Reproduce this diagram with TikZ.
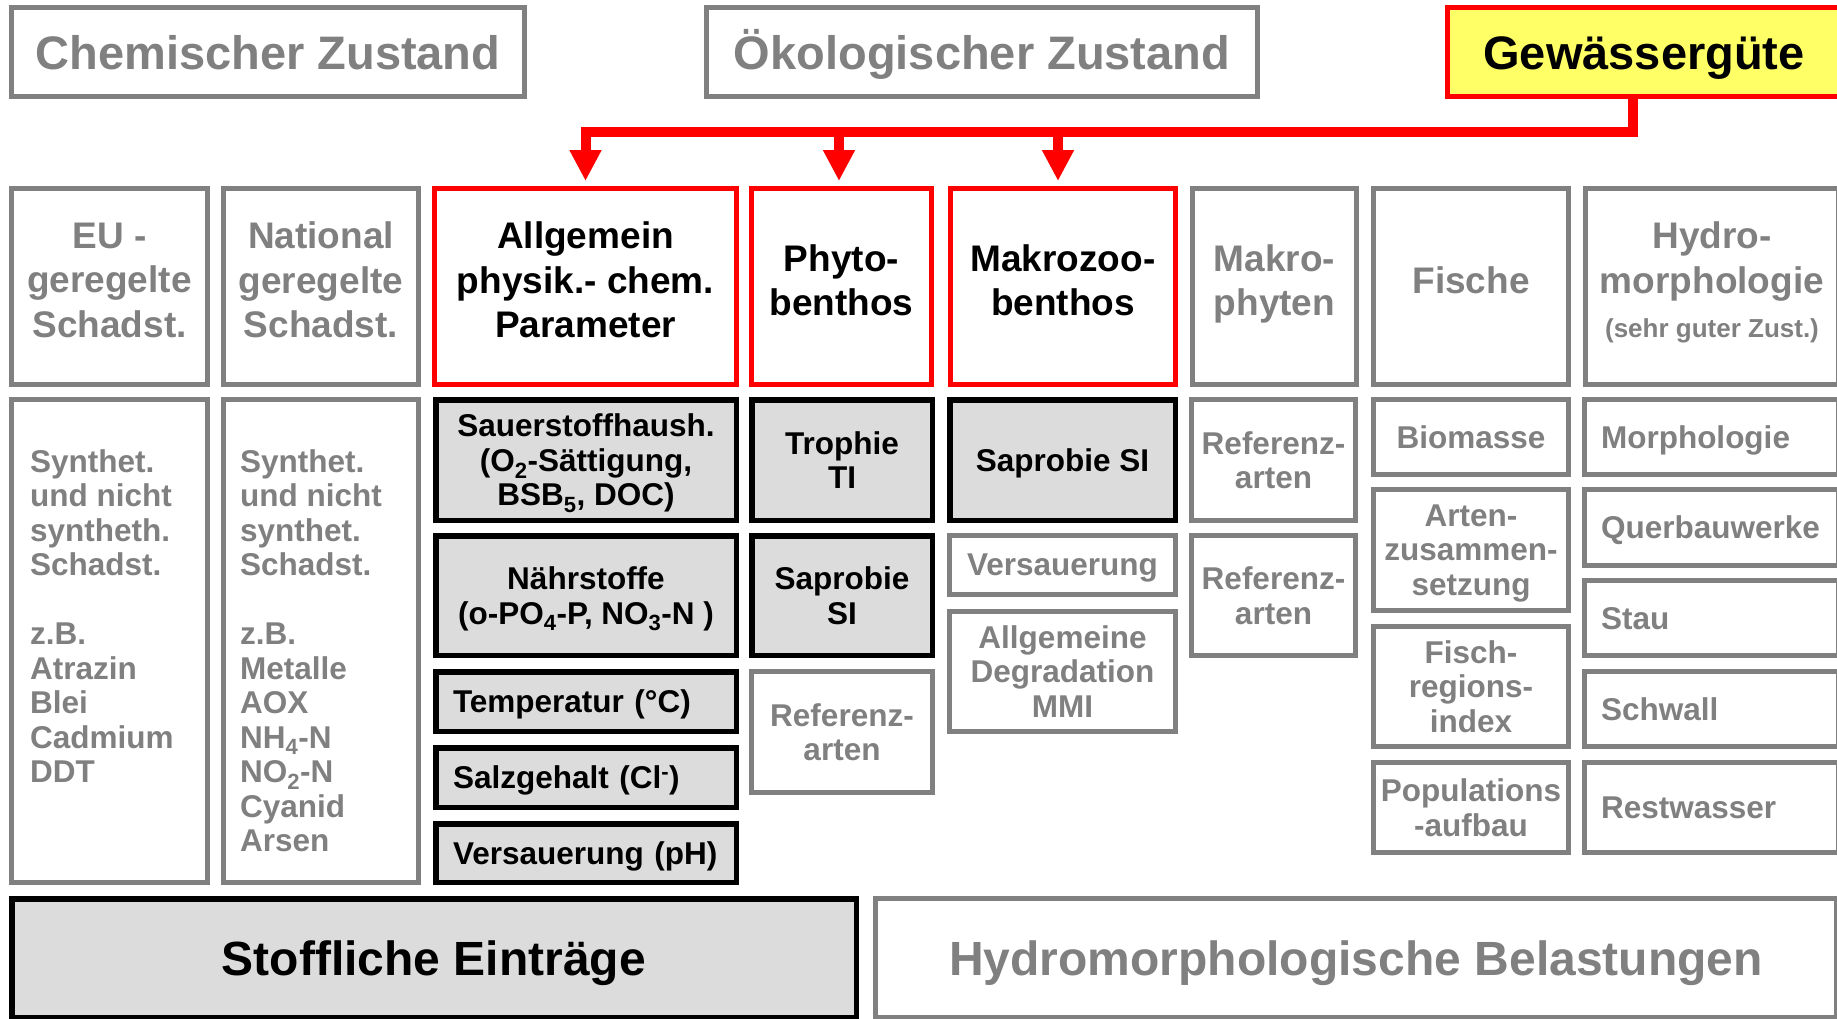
\documentclass[tikz,border=0pt]{standalone}
\usepackage{fontspec}
\setmainfont{Liberation Sans}
\usepackage{tikz}
\usetikzlibrary{arrows.meta}

\definecolor{grau}{RGB}{128,128,128}
\definecolor{hellgrau}{RGB}{220,220,220}
\definecolor{gelb}{RGB}{255,255,102}

\newcommand{\titelschrift}{\fontsize{47}{56}\selectfont\bfseries}
\newcommand{\kopfschrift}{\fontsize{37}{44.5}\selectfont\bfseries}
\newcommand{\zellschrift}{\fontsize{31.5}{34.5}\selectfont\bfseries}
\newcommand{\fussschrift}{\fontsize{48}{58}\selectfont\bfseries}

\tikzset{
  feld/.style={rectangle, inner sep=0pt, align=center},
  graufeld/.style={feld, draw=grau, line width=5pt, fill=white, text=grau},
  rotfeld/.style={feld, draw=red, line width=5pt, fill=white, text=black},
  schwarzfeld/.style={feld, draw=black, line width=5.5pt, fill=hellgrau, text=black},
  titel/.style={font=\titelschrift, text height=34pt, text depth=0pt},
  kopf/.style={font=\kopfschrift, text depth=13pt},
  zelle/.style={font=\zellschrift, text depth=0pt},
  fuss/.style={font=\fussschrift, text depth=0pt},
  linksbuendig/.style={align=left, text width=#1},
  groesse/.style 2 args={minimum width=#1, minimum height=#2},
  schiene/.style={draw=red, line width=10pt},
  pfeil/.style={schiene, shorten >=5pt, -{Triangle[width=30pt,length=31pt]}},
}

\begin{document}
\begin{tikzpicture}[x=1pt, y=-1pt]
  \useasboundingbox (0,0) rectangle (1837,1018);
  \clip (0,0) rectangle (1837,1018);

  \node[graufeld, titel, groesse={513pt}{89pt}] (chem) at (268,52) {Chemischer Zustand};
  \node[graufeld, titel, groesse={551pt}{89pt}] (oeko) at (982,52) {Ökologischer Zustand};
  \node[rotfeld, titel, fill=gelb, groesse={393pt}{89pt}] (guete) at (1644,52) {Gewässergüte};

  \node[graufeld, kopf, groesse={196pt}{196pt}] (eu) at (109.5,286.5) {EU -\\geregelte\\Schadst.};
  \node[graufeld, kopf, groesse={195pt}{196pt}] (nat) at (321,286.5) {National\\geregelte\\Schadst.};
  \node[rotfeld, kopf, groesse={302pt}{196pt}] (allg) at (585.5,286.5) {Allgemein\\physik.- chem.\\Parameter};
  \node[rotfeld, kopf, groesse={180pt}{196pt}] (phyto) at (841.5,286.5) {Phyto-\\benthos};
  \node[rotfeld, kopf, groesse={225pt}{196pt}] (makro) at (1063,286.5) {Makrozoo-\\benthos};
  \node[graufeld, kopf, groesse={164pt}{196pt}] (mphyt) at (1274.5,286.5) {Makro-\\phyten};
  \node[graufeld, kopf, groesse={195pt}{196pt}] (fische) at (1471,286.5) {Fische};
  \node[graufeld, kopf, groesse={253pt}{196pt}] (hydro) at (1712,286.5)
    {Hydro-\\morphologie\\{\fontsize{26}{31}\selectfont(sehr guter Zust.)}};

  \coordinate (bus) at (0,132);
  \draw[pfeil] ([xshift=-11pt]guete.south) |- (allg.north |- bus) -- (allg.north);
  \draw[pfeil] ([xshift=-2.5pt]phyto.north |- bus) -- ([xshift=-2.5pt]phyto.north);
  \draw[pfeil] ([xshift=-5pt]makro.north |- bus) -- ([xshift=-5pt]makro.north);

  \node[graufeld, groesse={196pt}{483pt}] (eubox) at (109.5,641) {};
  \node[graufeld, groesse={195pt}{483pt}] (natbox) at (321,641) {};
  \node[feld, zelle, text=grau, align=left, anchor=north west] (eutxt) at (30,449)
    {Synthet.\\und nicht\\syntheth.\\Schadst.\\[34.5pt]z.B.\\Atrazin\\Blei\\Cadmium\\DDT};
  \node[feld, zelle, text=grau, align=left, anchor=north west] (nattxt) at (240,449)
    {Synthet.\\und nicht\\synthet.\\Schadst.\\[34.5pt]z.B.\\Metalle\\AOX\\NH\textsubscript{4}-N\\NO\textsubscript{2}-N\\Cyanid\\Arsen};

  \node[schwarzfeld, zelle, groesse={300.5pt}{120.5pt}] (sauer) at (586,460)
    {Sauerstoffhaush.\\(O\textsubscript{2}-Sättigung,\\BSB\textsubscript{5}, DOC)};
  \node[schwarzfeld, zelle, groesse={300.5pt}{119.5pt}] (naehr) at (586,595.5)
    {Nährstoffe\\(o-PO\textsubscript{4}-P, NO\textsubscript{3}-N )};
  \node[schwarzfeld, zelle, linksbuendig=266pt, groesse={300.5pt}{59.5pt}] (temp) at (586,701.5) {Temperatur (°C)};
  \node[schwarzfeld, zelle, linksbuendig=266pt, groesse={300.5pt}{59.5pt}] (salz) at (586,777.5) {Salzgehalt (Cl\textsuperscript{-})};
  \node[schwarzfeld, zelle, linksbuendig=266pt, groesse={300.5pt}{58.5pt}] (ph) at (586,853) {Versauerung (pH)};

  \node[schwarzfeld, zelle, groesse={180.5pt}{120.5pt}] (trophie) at (842,460) {Trophie\\TI};
  \node[schwarzfeld, zelle, groesse={180.5pt}{119.5pt}] (saprob) at (842,595.5) {Saprobie\\SI};
  \node[graufeld, zelle, groesse={181pt}{121pt}] (refphyto) at (842,732) {Referenz-\\arten};

  \node[schwarzfeld, zelle, groesse={225.5pt}{120.5pt}] (saprobsi) at (1062.5,460) {Saprobie SI};
  \node[graufeld, zelle, groesse={226pt}{59pt}] (versauer) at (1062.5,565) {Versauerung};
  \node[graufeld, zelle, groesse={226pt}{120pt}] (degrad) at (1062.5,671.5) {Allgemeine\\Degradation\\MMI};

  \node[graufeld, zelle, groesse={164pt}{121pt}] (refa) at (1273.5,460) {Referenz-\\arten};
  \node[graufeld, zelle, groesse={164pt}{120pt}] (refb) at (1273.5,595.5) {Referenz-\\arten};

  \node[graufeld, zelle, groesse={195pt}{75pt}] (biom) at (1471,437) {Biomasse};
  \node[graufeld, zelle, groesse={195pt}{121pt}] (arten) at (1471,550) {Arten-\\zusammen-\\setzung};
  \node[graufeld, zelle, groesse={195pt}{120pt}] (fri) at (1471,686.5) {Fisch-\\regions-\\index};
  \node[graufeld, zelle, groesse={195pt}{90pt}] (popul) at (1471,807.5) {Populations\\-aufbau};

  \node[graufeld, zelle, linksbuendig=221pt, groesse={254pt}{75pt}] (morph) at (1711.5,437) {Morphologie};
  \node[graufeld, zelle, linksbuendig=221pt, groesse={254pt}{76pt}] (quer) at (1711.5,527.5) {Querbauwerke};
  \node[graufeld, zelle, linksbuendig=221pt, groesse={254pt}{75pt}] (stau) at (1711.5,618) {Stau};
  \node[graufeld, zelle, linksbuendig=221pt, groesse={254pt}{75pt}] (schwall) at (1711.5,709) {Schwall};
  \node[graufeld, zelle, linksbuendig=221pt, groesse={254pt}{90pt}] (rest) at (1711.5,807.5) {Restwasser};

  \node[schwarzfeld, fuss, groesse={844.5pt}{118.5pt}] (stoff) at (434,958) {Stoffliche Einträge};
  \node[graufeld, fuss, groesse={961pt}{119pt}] (belast) at (1356,958) {Hydromorphologische Belastungen};
\end{tikzpicture}
\end{document}
